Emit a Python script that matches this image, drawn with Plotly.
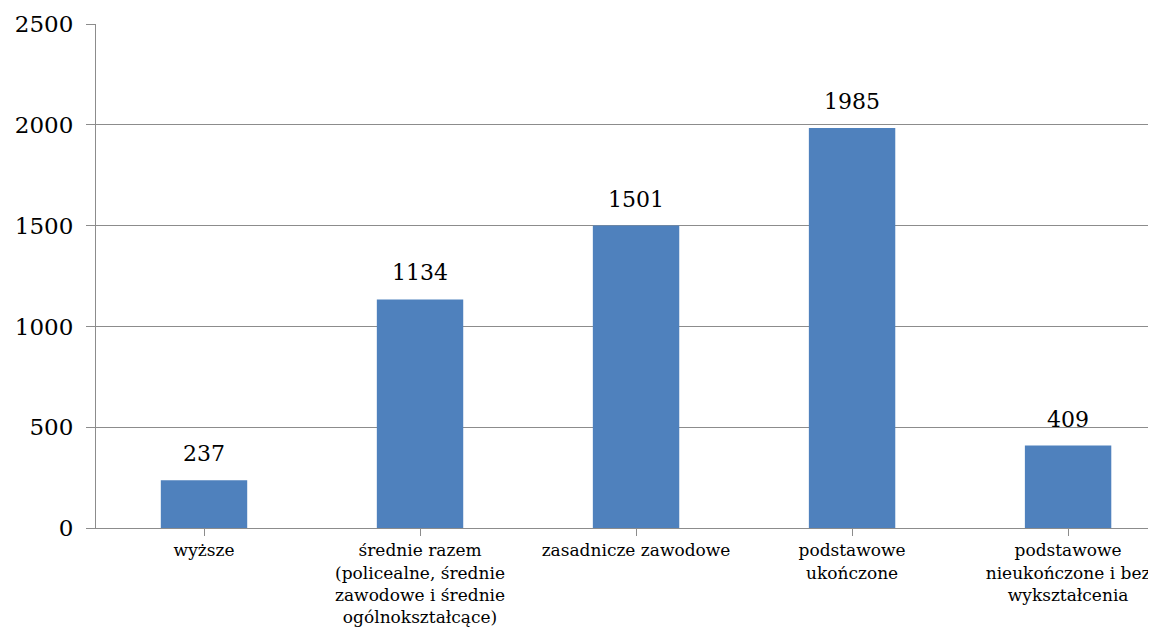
import plotly.graph_objects as go

categories = [
    "wyższe",
    "średnie razem<br>(policealne, średnie<br>zawodowe i średnie<br>ogólnokształcące)",
    "zasadnicze zawodowe",
    "podstawowe<br>ukończone",
    "podstawowe<br>nieukończone i bez<br>wykształcenia",
]
values = [237, 1134, 1501, 1985, 409]
y_ticks = [0, 500, 1000, 1500, 2000, 2500]

FONT = "DejaVu Serif"
GRAY = "#8c8c8c"

xs = list(range(len(categories)))

fig = go.Figure(go.Bar(
    x=xs,
    y=values,
    width=0.40,
    marker=dict(color="#4F81BD", line=dict(width=0)),
    cliponaxis=False,
))

for x, v in zip(xs, values):
    fig.add_annotation(
        x=x, y=v, text=str(v), showarrow=False,
        xanchor="center", yanchor="bottom", yshift=12,
        font=dict(family=FONT, size=22, color="black"),
    )

fig.update_layout(
    width=1156, height=639,
    margin=dict(l=88, r=0, t=16, b=119),
    paper_bgcolor="white", plot_bgcolor="white",
    showlegend=False,
    font=dict(family=FONT, color="black"),
)
fig.update_xaxes(
    range=[-0.5, 4.444],
    tickmode="array",
    tickvals=xs,
    ticktext=categories,
    tickson="boundaries",
    ticks="outside", ticklen=7, tickcolor=GRAY, tickwidth=1,
    showline=True, linecolor=GRAY, linewidth=1,
    showgrid=False,
    tickfont=dict(family=FONT, size=17, color="black"),
    tickangle=0,
    automargin=False,
    fixedrange=True,
)
fig.update_yaxes(
    range=[0, 2501],
    tickvals=y_ticks,
    ticks="outside", ticklen=9, tickcolor=GRAY, tickwidth=1,
    ticklabelstandoff=8,
    showline=True, linecolor=GRAY, linewidth=1,
    showgrid=True, gridcolor=GRAY, gridwidth=1,
    zeroline=False,
    tickfont=dict(family=FONT, size=23, color="black"),
    automargin=False,
    fixedrange=True,
)

fig.write_html("out.html")
